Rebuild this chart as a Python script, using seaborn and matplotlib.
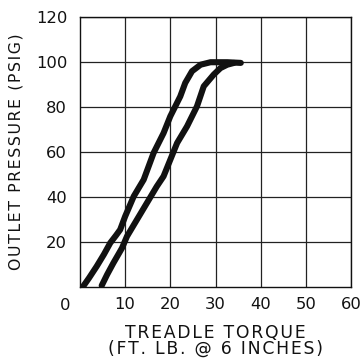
import matplotlib
matplotlib.use("Agg")
import matplotlib.pyplot as plt
import seaborn as sns
import pandas as pd

# Applying branch (higher curve) and releasing branch (lower curve)
apply_torque = [0.6, 2.0, 3.7, 5.3, 6.7, 8.0, 8.9, 10.0, 11.9, 14.1, 16.3, 18.5, 20.0, 22.2, 23.3, 24.8, 26.7, 28.9, 32.6, 35.6]
apply_pressure = [0.0, 4.0, 9.2, 14.5, 19.6, 23.0, 25.5, 31.4, 40.3, 47.7, 59.6, 68.4, 75.9, 84.7, 90.7, 95.9, 98.8, 99.9, 99.9, 99.6]

release_torque = [4.8, 6.0, 7.4, 9.3, 10.4, 12.6, 14.8, 17.0, 18.5, 20.0, 21.5, 23.7, 25.9, 27.4, 29.6, 31.1, 32.6, 34.1]
release_pressure = [0.6, 5.5, 10.7, 17.3, 22.5, 29.9, 37.3, 44.7, 49.2, 56.6, 64.0, 71.4, 80.3, 89.2, 94.4, 97.3, 98.8, 99.6]

x_ticks = [10, 20, 30, 40, 50, 60]
y_ticks = [20, 40, 60, 80, 100, 120]

df = pd.concat([
    pd.DataFrame({"torque": apply_torque, "pressure": apply_pressure, "branch": "apply"}),
    pd.DataFrame({"torque": release_torque, "pressure": release_pressure, "branch": "release"}),
])


def tracked(text, gap="\u200a"):
    """Spread capitals apart with narrow spaces."""
    return gap.join(text)


sns.set_theme(style="white")
plt.rcParams["font.family"] = ["DejaVu Sans"]

fig = plt.figure(figsize=(3.61, 3.58), dpi=100)
ax = fig.add_axes([80 / 361, 1 - 287 / 358, 271 / 361, 270 / 358])

sns.lineplot(data=df, x="torque", y="pressure", units="branch", estimator=None,
             sort=False, color="#111111", linewidth=4.4, ax=ax,
             solid_capstyle="round", solid_joinstyle="round")

ax.set_xlim(0, 60)
ax.set_ylim(0, 120)
ax.set_xticks(x_ticks)
ax.set_yticks(y_ticks)
ax.set_xticklabels([str(v) for v in x_ticks], fontsize=11.8, color="#111111")
ax.set_yticklabels([str(v) for v in y_ticks], fontsize=11.8, color="#111111")
ax.tick_params(axis="both", length=0)
ax.tick_params(axis="x", pad=7.5)
ax.tick_params(axis="y", pad=9.2)

ax.grid(True, color="#222222", linewidth=0.9)
ax.set_axisbelow(True)
for s in ax.spines.values():
    s.set_color("#111111")
    s.set_linewidth(1.0)

# Shared origin label at the corner
ax.text(-15 / 271, -10.5 / 270, "0", transform=ax.transAxes, ha="center", va="top",
        fontsize=11.8, color="#111111")

ax.set_xlabel(tracked("TREADLE TORQUE") + "\n" + tracked("(FT. LB. @ 6 INCHES)"),
              fontsize=12.4, color="#111111", labelpad=8, linespacing=0.88)
ax.set_ylabel(tracked("OUTLET PRESSURE (PSIG)"),
              fontsize=11.3, color="#111111", labelpad=9)

fig.savefig("out.png", dpi=100)
